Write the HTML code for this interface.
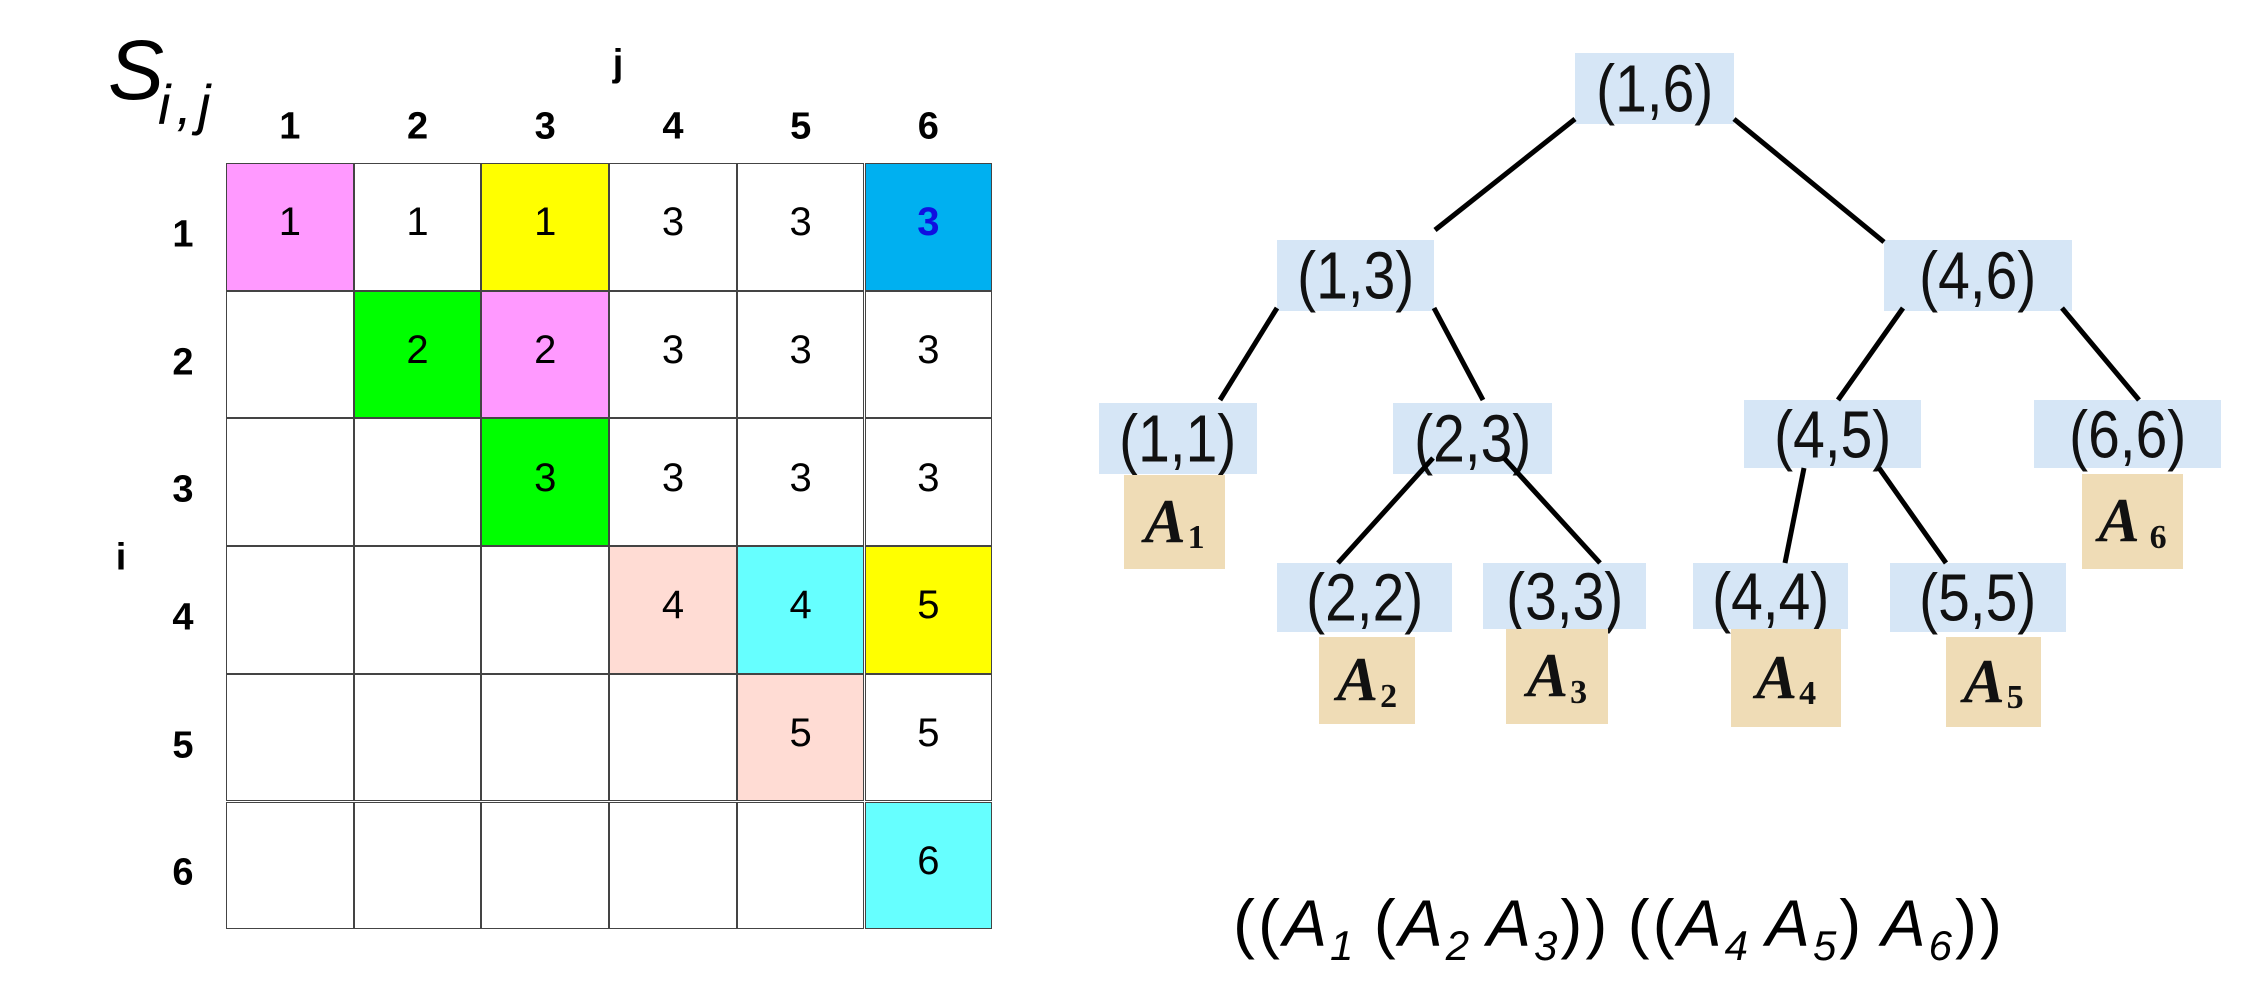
<!DOCTYPE html>
<html><head><meta charset="utf-8"><style>
body{margin:0;width:2265px;height:1000px;background:#fff;position:relative;overflow:hidden;font-family:"Liberation Sans",sans-serif}
.a{position:absolute}
.c{position:absolute;width:127.7px;height:127.7px;box-sizing:border-box;display:flex;align-items:center;justify-content:center;font-size:40px;padding-bottom:8px}
.h{position:absolute;font-weight:bold;font-size:38px;transform:translate(-50%,-50%)}
.n{position:absolute;background:#d6e6f6;display:flex;align-items:center;justify-content:center;font-size:60px;color:#111}
.n b{font-weight:normal;display:inline-block;transform:scale(0.95,1.12)}
.m{position:absolute;background:#efdcb6;display:flex;align-items:center;justify-content:center;font-family:"Liberation Serif",serif;font-weight:bold;font-style:italic;font-size:62px;color:#111}
.m span{font-style:normal;font-size:34px;position:relative;top:16px;margin-left:2px}
.f sub{font-size:42px}
</style></head><body>
<div class="a" style="left:108px;top:22px;font-size:84px;font-style:italic">S</div>
<div class="a" style="left:158px;top:72px;font-size:56px;font-style:italic">i<span style="margin-left:6px">,</span><span style="margin-left:6px">j</span></div>
<div class="h" style="left:618px;top:64px">j</div>
<div class="h" style="left:121px;top:558px">i</div>
<div id="g"></div>
<script>
var L=226,T=163,S=127.7;
var cols={"0,0":"#ff99ff","0,2":"#ffff00","0,5":"#00b0f0","1,1":"#00ff00","1,2":"#ff99ff","2,2":"#00ff00","3,3":"#ffdcd4","3,4":"#66ffff","3,5":"#ffff00","4,4":"#ffdcd4","5,5":"#66ffff"};
var vals=[[1,1,1,3,3,3],[0,2,2,3,3,3],[0,0,3,3,3,3],[0,0,0,4,4,5],[0,0,0,0,5,5],[0,0,0,0,0,6]];
var h="";
for(var i=0;i<6;i++){for(var j=0;j<6;j++){var v=vals[i][j];var bg=cols[i+","+j]||"#fff";
h+='<div class="c" style="left:'+(L+j*S)+'px;top:'+(T+i*S)+'px;background:'+bg+';border:1px solid #444;'+(i==0&&j==5?'color:#1010e0;font-weight:bold;':'')+'">'+(v?v:'')+'</div>';}
h+='<div class="h" style="left:'+(L+(i+0.5)*S)+'px;top:127px">'+(i+1)+'</div>';
h+='<div class="h" style="left:183px;top:'+(T+(i+0.5)*S+8)+'px">'+(i+1)+'</div>';}
document.getElementById("g").innerHTML=h;
</script>
<div class="n" style="left:1575px;top:53px;width:159px;height:71px"><b>(1,6)</b></div>
<div class="n" style="left:1277px;top:240px;width:157px;height:71px"><b>(1,3)</b></div>
<div class="n" style="left:1884px;top:240px;width:188px;height:71px"><b>(4,6)</b></div>
<div class="n" style="left:1099px;top:403px;width:158px;height:71px"><b>(1,1)</b></div>
<div class="n" style="left:1393px;top:403px;width:159px;height:71px"><b>(2,3)</b></div>
<div class="n" style="left:1744px;top:400px;width:177px;height:68px"><b>(4,5)</b></div>
<div class="n" style="left:2034px;top:400px;width:187px;height:68px"><b>(6,6)</b></div>
<div class="n" style="left:1277px;top:563px;width:175px;height:69px"><b>(2,2)</b></div>
<div class="n" style="left:1483px;top:563px;width:163px;height:66px"><b>(3,3)</b></div>
<div class="n" style="left:1693px;top:563px;width:155px;height:66px"><b>(4,4)</b></div>
<div class="n" style="left:1890px;top:563px;width:176px;height:69px"><b>(5,5)</b></div>
<div class="m" style="left:1124px;top:475px;width:101px;height:94px">A<span>1</span></div>
<div class="m" style="left:1319px;top:637px;width:96px;height:87px">A<span>2</span></div>
<div class="m" style="left:1506px;top:629px;width:102px;height:95px">A<span>3</span></div>
<div class="m" style="left:1731px;top:629px;width:110px;height:98px">A<span>4</span></div>
<div class="m" style="left:1946px;top:637px;width:95px;height:90px">A<span>5</span></div>
<div class="m" style="left:2082px;top:474px;width:101px;height:95px">A<span style="margin-left:10px">6</span></div>
<svg class="a" style="left:0;top:0" width="2265" height="1000" stroke="#000" stroke-width="5">
<line x1="1575" y1="119" x2="1435" y2="230"/>
<line x1="1734" y1="119" x2="1884" y2="242"/>
<line x1="1277" y1="308" x2="1220" y2="400"/>
<line x1="1434" y1="308" x2="1483" y2="400"/>
<line x1="1903" y1="308" x2="1838" y2="400"/>
<line x1="2062" y1="308" x2="2139" y2="400"/>
<line x1="1433" y1="458" x2="1338" y2="563"/>
<line x1="1504" y1="458" x2="1600" y2="563"/>
<line x1="1804" y1="468" x2="1785" y2="563"/>
<line x1="1879" y1="468" x2="1946" y2="563"/>
</svg>
<div class="a f" style="left:1233px;top:885px;font-size:66px;white-space:nowrap;letter-spacing:3px;word-spacing:-4px">((<i>A<sub>1</sub></i> (<i>A<sub>2</sub> A<sub>3</sub></i>)) ((<i>A<sub>4</sub> A<sub>5</sub></i>) <i>A<sub>6</sub></i>))</div>
</body></html>
